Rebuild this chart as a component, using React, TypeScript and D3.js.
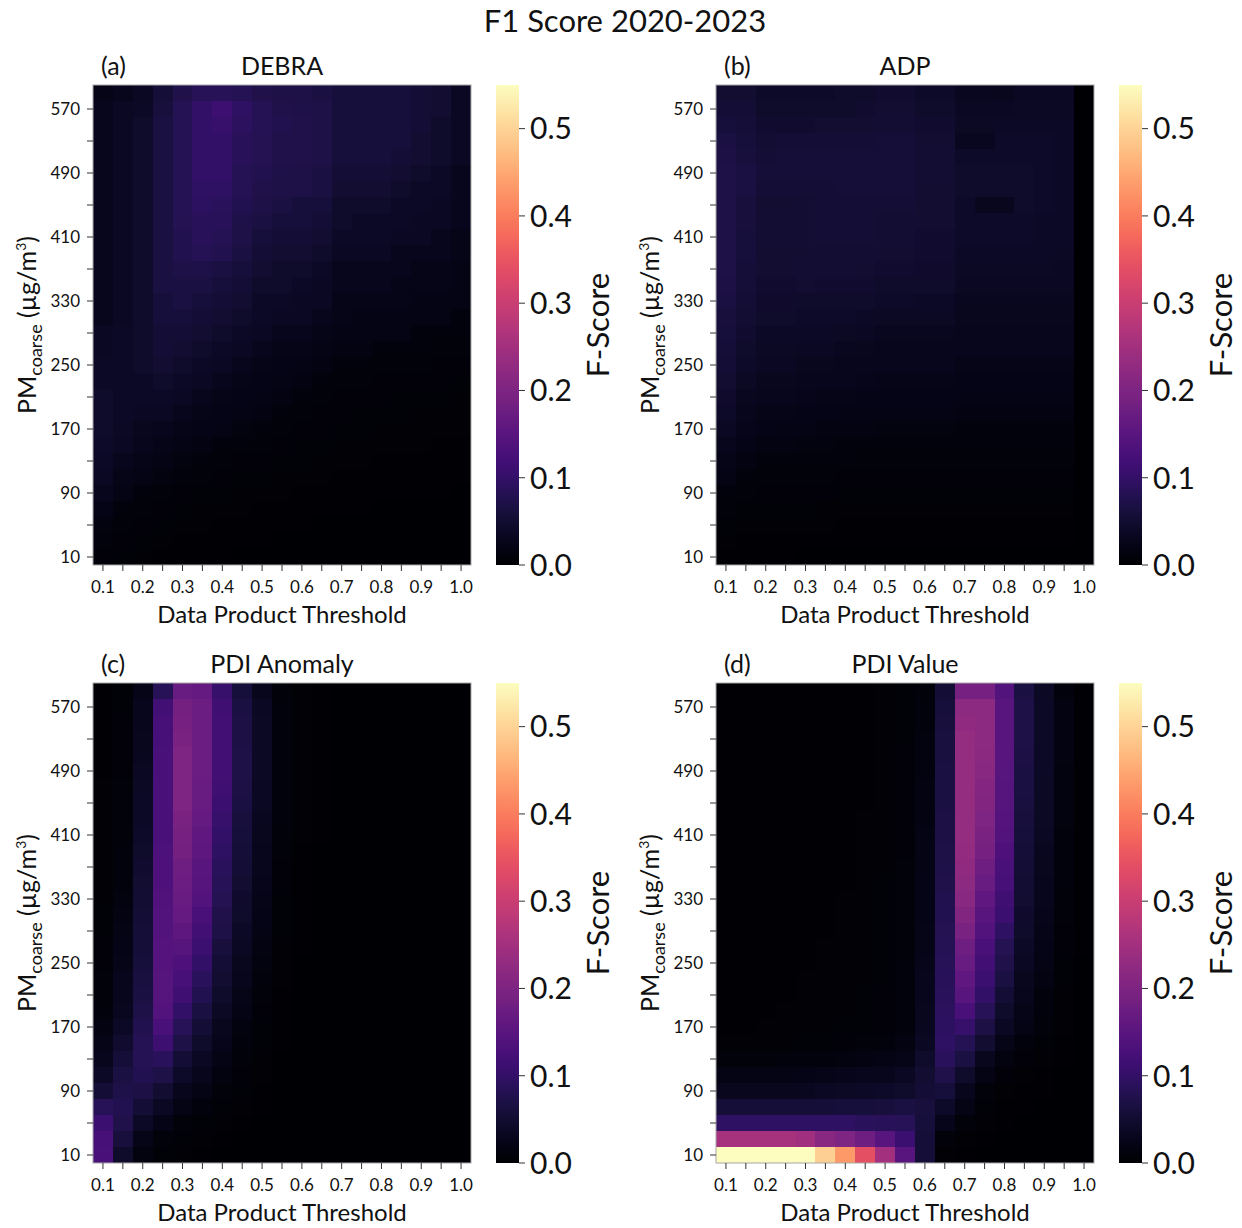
import React from 'react';
import * as d3 from 'd3';

// ---------- data ----------
const thresholds = [0.1, 0.15, 0.2, 0.25, 0.3, 0.35, 0.4, 0.45, 0.5, 0.55, 0.6, 0.65, 0.7, 0.75, 0.8, 0.85, 0.9, 0.95, 1.0];
// PM coarse levels (µg/m³), top row first
const pmLevels = [590, 570, 550, 530, 510, 490, 470, 450, 430, 410, 390, 370, 350, 330, 310, 290, 270, 250, 230, 210, 190, 170, 150, 130, 110, 90, 70, 50, 30, 10];
const colorbarTicks = [0, 0.1, 0.2, 0.3, 0.4, 0.5];
const figureTitle = 'F1 Score 2020-2023';
const panelTitles = ['DEBRA', 'ADP', 'PDI Anomaly', 'PDI Value'];
const panelTags = ['(a)', '(b)', '(c)', '(d)'];

const debraF1 = [
  [.025,.03,.035,.058,.075,.085,.085,.082,.075,.07,.07,.065,.06,.06,.06,.06,.055,.05,.035],
  [.03,.035,.04,.062,.082,.1,.112,.095,.082,.075,.072,.07,.06,.06,.06,.06,.055,.05,.035],
  [.03,.035,.045,.066,.082,.1,.105,.092,.082,.077,.075,.07,.06,.06,.06,.06,.055,.045,.035],
  [.03,.035,.045,.066,.082,.1,.1,.088,.08,.075,.075,.07,.06,.06,.06,.06,.05,.045,.035],
  [.03,.035,.045,.066,.082,.1,.1,.088,.08,.075,.075,.07,.06,.06,.06,.055,.05,.045,.035],
  [.03,.035,.045,.066,.082,.1,.1,.083,.077,.072,.07,.065,.055,.055,.055,.05,.045,.04,.03],
  [.03,.035,.045,.066,.082,.095,.095,.082,.075,.07,.07,.065,.05,.05,.05,.045,.04,.04,.03],
  [.03,.035,.045,.066,.082,.093,.09,.078,.07,.065,.06,.06,.045,.045,.045,.04,.04,.035,.03],
  [.03,.035,.045,.066,.08,.088,.088,.072,.065,.06,.06,.055,.045,.04,.04,.04,.035,.035,.03],
  [.03,.035,.045,.066,.077,.088,.082,.07,.06,.055,.055,.05,.04,.04,.04,.035,.035,.03,.025],
  [.03,.035,.045,.066,.076,.082,.077,.065,.055,.05,.05,.045,.035,.035,.035,.03,.03,.03,.025],
  [.03,.035,.045,.065,.07,.072,.066,.06,.05,.045,.045,.04,.03,.03,.03,.03,.025,.025,.02],
  [.03,.035,.045,.065,.066,.066,.06,.055,.045,.045,.04,.035,.03,.03,.03,.025,.025,.025,.02],
  [.03,.035,.045,.06,.065,.06,.055,.05,.04,.04,.035,.035,.025,.025,.025,.025,.02,.02,.02],
  [.03,.035,.045,.06,.06,.055,.05,.045,.04,.035,.035,.03,.025,.02,.02,.02,.02,.02,.015],
  [.035,.04,.045,.055,.055,.05,.045,.04,.035,.03,.03,.025,.02,.02,.02,.02,.015,.015,.015],
  [.035,.04,.045,.055,.05,.045,.04,.035,.03,.025,.025,.02,.018,.018,.015,.015,.015,.012,.012],
  [.04,.04,.045,.05,.045,.04,.035,.03,.025,.022,.02,.018,.015,.015,.012,.012,.012,.01,.01],
  [.04,.04,.04,.045,.04,.035,.03,.025,.022,.02,.018,.015,.012,.012,.01,.01,.01,.01,.008],
  [.045,.04,.04,.04,.035,.03,.025,.022,.02,.018,.015,.012,.01,.01,.01,.008,.008,.008,.006],
  [.045,.04,.035,.035,.03,.025,.022,.02,.018,.015,.012,.01,.01,.008,.008,.008,.006,.006,.006],
  [.045,.038,.032,.03,.025,.022,.02,.016,.014,.012,.01,.01,.008,.008,.006,.006,.006,.005,.005],
  [.042,.035,.028,.025,.02,.018,.015,.013,.012,.01,.008,.008,.006,.006,.005,.005,.005,.004,.004],
  [.04,.03,.025,.02,.016,.014,.012,.01,.01,.008,.007,.006,.005,.005,.004,.004,.004,.004,.003],
  [.035,.025,.02,.016,.013,.011,.01,.008,.007,.006,.005,.005,.004,.004,.004,.003,.003,.003,.003],
  [.028,.02,.015,.012,.01,.008,.007,.006,.005,.005,.004,.004,.003,.003,.003,.003,.003,.003,.002],
  [.022,.015,.012,.009,.007,.006,.005,.005,.004,.004,.003,.003,.003,.003,.002,.002,.002,.002,.002],
  [.017,.012,.009,.007,.005,.005,.004,.004,.003,.003,.003,.002,.002,.002,.002,.002,.002,.002,.002],
  [.013,.009,.007,.005,.004,.004,.003,.003,.003,.002,.002,.002,.002,.002,.002,.002,.001,.001,.001],
  [.01,.007,.005,.004,.003,.003,.003,.002,.002,.002,.002,.002,.001,.001,.001,.001,.001,.001,.001],
];

const adpF1 = [
  [.05,.05,.042,.042,.042,.042,.045,.045,.048,.048,.042,.042,.034,.034,.032,.035,.035,.035,0],
  [.055,.055,.045,.045,.045,.045,.045,.048,.05,.05,.045,.045,.036,.036,.036,.038,.038,.038,0],
  [.06,.058,.048,.048,.048,.05,.05,.05,.052,.052,.048,.048,.038,.038,.04,.04,.04,.04,0],
  [.066,.06,.052,.055,.055,.055,.055,.055,.056,.056,.05,.05,.033,.033,.042,.042,.042,.04,0],
  [.068,.062,.055,.056,.056,.056,.058,.058,.058,.058,.052,.052,.042,.042,.042,.042,.042,.04,0],
  [.07,.065,.056,.056,.056,.056,.058,.058,.058,.058,.052,.052,.045,.045,.045,.045,.042,.04,0],
  [.07,.065,.055,.055,.055,.055,.056,.056,.056,.056,.05,.05,.045,.045,.045,.045,.042,.04,0],
  [.07,.062,.05,.05,.052,.055,.055,.055,.055,.055,.05,.05,.042,.032,.032,.045,.042,.04,0],
  [.07,.062,.052,.052,.052,.054,.054,.054,.052,.052,.05,.05,.042,.042,.042,.042,.04,.04,0],
  [.07,.06,.052,.052,.052,.054,.054,.054,.052,.052,.048,.048,.042,.042,.042,.042,.04,.04,0],
  [.07,.06,.05,.05,.05,.052,.052,.052,.05,.05,.048,.048,.04,.04,.04,.04,.04,.038,0],
  [.07,.058,.05,.05,.052,.052,.052,.05,.048,.048,.046,.046,.038,.038,.038,.038,.038,.036,0],
  [.068,.056,.048,.048,.05,.048,.048,.048,.045,.045,.044,.044,.036,.036,.036,.036,.036,.035,0],
  [.065,.055,.046,.046,.045,.045,.045,.045,.042,.042,.04,.04,.034,.034,.034,.034,.034,.034,0],
  [.062,.052,.044,.044,.042,.042,.042,.04,.038,.038,.038,.038,.032,.032,.032,.032,.032,.032,0],
  [.06,.048,.04,.04,.04,.04,.038,.036,.034,.034,.034,.034,.03,.03,.03,.03,.03,.03,0],
  [.058,.045,.038,.038,.036,.036,.034,.032,.03,.03,.03,.03,.028,.028,.028,.028,.028,.028,0],
  [.055,.042,.035,.035,.032,.032,.03,.028,.028,.028,.028,.028,.025,.025,.025,.025,.025,.025,0],
  [.05,.038,.032,.032,.03,.028,.028,.026,.025,.025,.025,.025,.022,.022,.022,.022,.022,.022,0],
  [.046,.034,.028,.028,.026,.025,.024,.023,.022,.022,.022,.022,.02,.02,.02,.02,.02,.02,0],
  [.042,.03,.025,.025,.022,.022,.021,.02,.02,.02,.02,.02,.018,.018,.018,.018,.018,.018,0],
  [.036,.026,.022,.021,.02,.019,.018,.018,.017,.017,.017,.017,.015,.015,.015,.015,.015,.015,0],
  [.03,.022,.018,.018,.017,.016,.015,.015,.014,.014,.014,.014,.013,.013,.013,.013,.013,.013,0],
  [.025,.018,.015,.015,.014,.013,.013,.012,.012,.012,.012,.012,.011,.011,.011,.011,.011,.011,0],
  [.02,.014,.012,.012,.011,.011,.01,.01,.01,.01,.01,.01,.009,.009,.009,.009,.009,.009,0],
  [.015,.011,.01,.01,.009,.009,.008,.008,.008,.008,.008,.008,.007,.007,.007,.007,.007,.007,0],
  [.011,.008,.007,.007,.007,.006,.006,.006,.006,.006,.006,.006,.005,.005,.005,.005,.005,.005,0],
  [.008,.006,.005,.005,.005,.005,.004,.004,.004,.004,.004,.004,.004,.004,.004,.004,.004,.004,0],
  [.006,.004,.004,.004,.003,.003,.003,.003,.003,.003,.003,.003,.003,.003,.003,.003,.003,.003,0],
  [.004,.003,.003,.003,.002,.002,.002,.002,.002,.002,.002,.002,.002,.002,.002,.002,.002,.002,0],
];

const pdiAnomalyF1 = [
  [.004,.008,.025,.085,.17,.165,.105,.06,.03,.012,.005,.003,.002,.002,.002,.002,.002,.002,.002],
  [.004,.008,.028,.12,.185,.175,.115,.065,.035,.014,.006,.003,.002,.002,.002,.002,.002,.002,.002],
  [.004,.009,.03,.125,.19,.175,.12,.068,.037,.015,.006,.003,.002,.002,.002,.002,.002,.002,.002],
  [.004,.009,.032,.125,.195,.175,.12,.068,.037,.015,.006,.003,.002,.002,.002,.002,.002,.002,.002],
  [.004,.01,.034,.13,.2,.175,.12,.07,.038,.015,.006,.003,.002,.002,.002,.002,.002,.002,.002],
  [.004,.01,.036,.13,.2,.175,.12,.07,.038,.015,.006,.003,.002,.002,.002,.002,.002,.002,.002],
  [.005,.011,.038,.13,.2,.17,.115,.068,.036,.014,.005,.003,.002,.002,.002,.002,.002,.002,.002],
  [.005,.011,.04,.13,.2,.17,.11,.065,.035,.014,.005,.003,.002,.002,.002,.002,.002,.002,.002],
  [.005,.012,.04,.13,.195,.165,.105,.062,.033,.013,.005,.003,.002,.002,.002,.002,.002,.002,.002],
  [.005,.012,.042,.13,.19,.16,.1,.06,.032,.012,.005,.003,.002,.002,.002,.002,.002,.002,.002],
  [.005,.013,.045,.132,.185,.155,.095,.057,.03,.011,.004,.002,.002,.002,.002,.002,.002,.002,.002],
  [.005,.014,.048,.135,.18,.15,.09,.054,.028,.01,.004,.002,.002,.002,.002,.002,.002,.002,.002],
  [.006,.015,.05,.135,.175,.145,.085,.05,.026,.009,.004,.002,.002,.002,.002,.002,.002,.002,.002],
  [.006,.016,.052,.138,.17,.14,.08,.047,.024,.008,.003,.002,.002,.002,.002,.002,.002,.002,.002],
  [.007,.018,.055,.14,.165,.13,.075,.044,.022,.008,.003,.002,.002,.002,.002,.002,.002,.002,.002],
  [.008,.02,.056,.14,.155,.12,.07,.04,.02,.007,.003,.002,.002,.002,.002,.002,.002,.002,.002],
  [.009,.022,.058,.142,.145,.11,.062,.036,.018,.006,.003,.002,.002,.002,.002,.002,.002,.002,.002],
  [.01,.025,.06,.142,.135,.1,.055,.032,.016,.005,.002,.002,.002,.002,.002,.002,.002,.002,.002],
  [.011,.028,.063,.145,.125,.09,.05,.028,.014,.005,.002,.002,.002,.002,.002,.002,.002,.002,.002],
  [.012,.03,.066,.145,.115,.078,.044,.024,.012,.004,.002,.002,.002,.002,.002,.002,.002,.002,.002],
  [.014,.034,.07,.14,.1,.066,.038,.02,.01,.004,.002,.002,.002,.002,.002,.002,.002,.002,.002],
  [.018,.04,.076,.13,.085,.055,.032,.017,.008,.003,.002,.002,.002,.002,.002,.002,.002,.002,.002],
  [.024,.048,.082,.112,.07,.045,.026,.014,.007,.003,.002,.002,.002,.002,.002,.002,.002,.002,.002],
  [.03,.056,.082,.09,.055,.036,.02,.011,.006,.002,.002,.002,.002,.002,.002,.002,.002,.002,.002],
  [.04,.065,.078,.07,.042,.028,.016,.009,.005,.002,.001,.001,.001,.001,.001,.001,.001,.001,.001],
  [.055,.072,.068,.05,.03,.02,.012,.007,.004,.002,.001,.001,.001,.001,.001,.001,.001,.001,.001],
  [.085,.078,.055,.035,.02,.013,.008,.005,.003,.002,.001,.001,.001,.001,.001,.001,.001,.001,.001],
  [.11,.075,.04,.022,.012,.008,.005,.003,.002,.001,.001,.001,.001,.001,.001,.001,.001,.001,.001],
  [.125,.062,.025,.012,.007,.005,.003,.002,.002,.001,.001,.001,.001,.001,.001,.001,.001,.001,.001],
  [.13,.045,.016,.008,.005,.003,.002,.002,.001,.001,.001,.001,.001,.001,.001,.001,.001,.001,.001],
];

const pdiValueF1 = [
  [.003,.003,.003,.003,.003,.003,.004,.004,.005,.008,.012,.055,.19,.19,.14,.065,.038,.015,.003],
  [.003,.003,.003,.003,.003,.003,.004,.004,.005,.008,.014,.06,.22,.22,.15,.07,.04,.018,.003],
  [.003,.003,.003,.003,.003,.003,.004,.004,.005,.008,.015,.062,.225,.22,.15,.07,.04,.018,.003],
  [.003,.003,.003,.003,.003,.003,.004,.004,.005,.008,.016,.064,.23,.22,.15,.07,.04,.018,.003],
  [.003,.003,.003,.003,.003,.003,.004,.004,.005,.009,.016,.064,.23,.218,.15,.068,.04,.018,.003],
  [.003,.003,.003,.003,.003,.003,.004,.004,.005,.009,.017,.065,.23,.215,.148,.066,.04,.017,.003],
  [.003,.003,.003,.003,.003,.003,.004,.004,.005,.009,.018,.066,.232,.21,.145,.065,.038,.017,.003],
  [.003,.003,.003,.003,.003,.003,.004,.004,.006,.01,.018,.066,.232,.205,.145,.064,.038,.016,.003],
  [.003,.003,.003,.003,.003,.004,.004,.005,.006,.01,.019,.067,.23,.2,.142,.062,.037,.016,.003],
  [.003,.003,.003,.003,.003,.004,.004,.005,.006,.01,.02,.068,.23,.195,.14,.06,.036,.015,.003],
  [.003,.003,.003,.003,.003,.004,.004,.005,.006,.01,.02,.07,.228,.19,.135,.058,.034,.015,.003],
  [.003,.003,.003,.003,.003,.004,.004,.005,.006,.011,.021,.072,.225,.18,.13,.055,.032,.014,.003],
  [.003,.003,.003,.003,.004,.004,.004,.005,.007,.011,.022,.074,.22,.17,.125,.052,.03,.013,.003],
  [.003,.003,.003,.003,.004,.004,.005,.005,.007,.011,.022,.076,.215,.16,.115,.05,.028,.012,.003],
  [.003,.003,.003,.003,.004,.004,.005,.005,.007,.012,.023,.078,.205,.15,.11,.047,.026,.011,.003],
  [.003,.003,.003,.004,.004,.004,.005,.006,.007,.012,.024,.08,.195,.14,.095,.044,.024,.01,.003],
  [.003,.003,.003,.004,.004,.005,.005,.006,.008,.012,.025,.082,.18,.13,.08,.04,.022,.009,.003],
  [.003,.003,.004,.004,.004,.005,.005,.006,.008,.013,.027,.085,.17,.12,.075,.036,.02,.008,.002],
  [.003,.004,.004,.004,.005,.005,.006,.006,.008,.013,.028,.088,.16,.11,.065,.032,.018,.007,.002],
  [.004,.004,.004,.004,.005,.005,.006,.007,.009,.014,.03,.09,.15,.1,.055,.028,.015,.006,.002],
  [.004,.004,.004,.005,.005,.006,.006,.007,.009,.014,.031,.092,.13,.085,.045,.024,.013,.005,.002],
  [.004,.004,.005,.005,.005,.006,.007,.008,.01,.015,.033,.094,.105,.068,.035,.02,.011,.005,.002],
  [.005,.005,.006,.006,.007,.008,.01,.012,.014,.018,.036,.095,.082,.05,.025,.015,.008,.004,.002],
  [.012,.012,.012,.013,.014,.015,.016,.018,.02,.025,.045,.09,.065,.032,.016,.01,.006,.003,.002],
  [.02,.02,.02,.02,.022,.024,.026,.028,.03,.035,.05,.075,.045,.02,.01,.006,.004,.002,.001],
  [.032,.032,.032,.032,.034,.036,.038,.04,.042,.045,.055,.06,.03,.012,.006,.004,.003,.002,.001],
  [.056,.056,.056,.056,.056,.058,.06,.06,.062,.065,.062,.042,.02,.008,.004,.003,.002,.001,.001],
  [.095,.095,.095,.095,.095,.095,.095,.09,.088,.085,.06,.026,.012,.005,.003,.002,.001,.001,.001],
  [.255,.255,.255,.255,.245,.215,.2,.18,.15,.11,.058,.012,.006,.003,.002,.001,.001,.001,.001],
  [.55,.55,.55,.55,.55,.495,.43,.34,.25,.15,.058,.005,.003,.002,.001,.001,.001,.001,.001],
];

const panelData = [debraF1, adpF1, pdiAnomalyF1, pdiValueF1];

// ---------- layout ----------
const FONT = "Lato, 'DejaVu Sans', sans-serif";
const VMAX = 0.55;
const HW = 378;
const HH = 480;
const origins = [
  { left: 93, top: 85 },
  { left: 716, top: 85 },
  { left: 93, top: 683 },
  { left: 716, top: 683 },
];
const color = d3.scaleSequential(d3.interpolateMagma).domain([0, VMAX]).clamp(true);
const gradStops = d3.range(0, 1.0001, 0.02);

function Panel({ idx }: { idx: number }) {
  const { left, top } = origins[idx];
  const data = panelData[idx];
  const x = d3.scaleBand<number>().domain(thresholds).range([left, left + HW]);
  const y = d3.scaleBand<number>().domain(pmLevels).range([top, top + HH]);
  const bottom = top + HH;
  const cbLeft = left + 403;
  const cbW = 23;
  const cbScale = d3.scaleLinear().domain([0, VMAX]).range([bottom, top]);
  const yTicks = pmLevels.filter((v) => (v - 10) % 40 === 0);
  const cx = left + HW / 2;
  const cy = top + HH / 2;
  return (
    <g>
      <g shapeRendering="crispEdges">
        {data.map((row, ri) =>
          row.map((v, ci) => {
            const x0 = Math.round(x(thresholds[ci])!);
            const x1 = Math.round(x(thresholds[ci])! + x.bandwidth());
            const y0 = Math.round(y(pmLevels[ri])!);
            const y1 = Math.round(y(pmLevels[ri])! + y.bandwidth());
            return <rect key={`${ri}-${ci}`} x={x0} y={y0} width={x1 - x0} height={y1 - y0} fill={color(v)} />;
          })
        )}
      </g>
      <rect x={left} y={top} width={HW} height={HH} fill="none" stroke="#a8a8a8" strokeWidth={1} />
      {/* y ticks */}
      {yTicks.map((v) => {
        const yy = y(v)! + y.bandwidth() / 2;
        return (
          <g key={`yt${v}`}>
            <line x1={left - 6} x2={left} y1={yy} y2={yy} stroke="#333" strokeWidth={1} />
            {(v - 10) % 80 === 0 && (
              <text x={left - 13} y={yy} dy="0.35em" textAnchor="end" fontSize={17} fontFamily={FONT} fill="#111">
                {v}
              </text>
            )}
          </g>
        );
      })}
      {/* x ticks */}
      {thresholds.map((t, i) => {
        const xx = x(t)! + x.bandwidth() / 2;
        return (
          <g key={`xt${i}`}>
            <line x1={xx} x2={xx} y1={bottom} y2={bottom + 6} stroke="#333" strokeWidth={1} />
            {i % 2 === 0 && (
              <text x={xx} y={bottom + 28} textAnchor="middle" fontSize={17} fontFamily={FONT} fill="#111">
                {t.toFixed(1)}
              </text>
            )}
          </g>
        );
      })}
      <text x={cx} y={bottom + 58} textAnchor="middle" fontSize={24} fontFamily={FONT} fill="#111">
        Data Product Threshold
      </text>
      <text
        transform={`translate(${left - 57},${cy}) rotate(-90)`}
        textAnchor="middle"
        fontSize={25}
        fontFamily={FONT}
        fill="#111"
      >
        PM
        <tspan fontSize={18} dy={6}>coarse</tspan>
        <tspan dy={-6}> (µg/m</tspan>
        <tspan fontSize={14} dy={-10}>3</tspan>
        <tspan dy={10}>)</tspan>
      </text>
      <text x={left + 8} y={top - 10} fontSize={25} fontFamily={FONT} fill="#111">
        {panelTags[idx]}
      </text>
      <text x={cx} y={top - 10} textAnchor="middle" fontSize={25} fontFamily={FONT} fill="#111">
        {panelTitles[idx]}
      </text>
      {/* colorbar */}
      <rect x={cbLeft} y={top} width={cbW} height={HH} fill="url(#magmaGrad)" />
      {colorbarTicks.map((t) => (
        <g key={`cb${t}`}>
          <line x1={cbLeft + cbW} x2={cbLeft + cbW + 6} y1={cbScale(t)} y2={cbScale(t)} stroke="#333" strokeWidth={1} />
          <text x={cbLeft + cbW + 11} y={cbScale(t)} dy="0.36em" fontSize={30} fontFamily={FONT} fill="#111">
            {t.toFixed(1)}
          </text>
        </g>
      ))}
      <text
        transform={`translate(${cbLeft + 113},${cy}) rotate(-90)`}
        textAnchor="middle"
        fontSize={31}
        fontFamily={FONT}
        fill="#111"
      >
        F-Score
      </text>
    </g>
  );
}

export default function App() {
  return (
    <svg
      width={1242}
      height={1228}
      style={{ position: 'absolute', left: 0, top: 0, background: '#fff' }}
    >
      <defs>
        <linearGradient id="magmaGrad" x1="0" y1="1" x2="0" y2="0">
          {gradStops.map((s) => (
            <stop key={s} offset={s} stopColor={d3.interpolateMagma(s)} />
          ))}
        </linearGradient>
      </defs>
      <rect x={0} y={0} width={1242} height={1228} fill="#fff" />
      <text x={625} y={32} textAnchor="middle" fontSize={31} fontFamily={FONT} fill="#111">
        {figureTitle}
      </text>
      {[0, 1, 2, 3].map((i) => (
        <Panel key={i} idx={i} />
      ))}
    </svg>
  );
}
